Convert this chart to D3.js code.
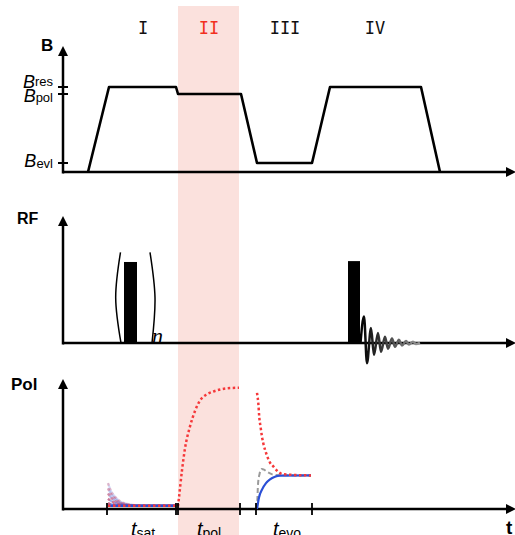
<!DOCTYPE html>
<html>
<head>
<meta charset="utf-8">
<script src="https://cdn.jsdelivr.net/npm/d3@7"></script>
<style>
  body { margin: 0; background: #fff; }
  svg { display: block; }
</style>
</head>
<body>
<svg id="chart"></svg>
<script>
// phases along the time axis
const phaseLabels = ["I", "II", "III", "IV"];
const phaseCenters = [8.0, 14.6, 22.2, 31.2];
const polBand = [11.5, 17.6];

// B field levels and waveform
const bLevelNames = ["res", "pol", "evl"];
const bLevels = [0.68, 0.624, 0.072];
const bTime = [2.5, 4.6, 11.3, 11.5, 17.8, 19.4, 24.9, 26.7, 35.8, 37.7];
const bValue = [0, 0.68, 0.68, 0.624, 0.624, 0.072, 0.072, 0.68, 0.68, 0];

// RF pulses + FID
const pulseStart = [6.1, 28.5];
const pulseEnd = [7.4, 29.7];
const pulseHeight = [0.643, 0.65];
const fidTime = [29.75, 30.1, 30.4, 30.8, 31.1, 31.5, 31.8, 32.2, 32.5, 32.9, 33.2, 33.6, 33.9, 34.3, 34.6, 35.0, 35.3, 35.7];
const fidValue = [0, 0.21, -0.16, 0.12, -0.095, 0.08, -0.07, 0.05, -0.045, 0.035, -0.03, 0.025, -0.02, 0.015, -0.012, 0.01, -0.008, 0];

// polarization: saturation (I)
const satTime = [4.5, 4.8, 5.2, 5.7, 6.3, 7.0, 8.0, 11.3];
const satCurves = [
  [0.20, 0.14, 0.095, 0.06, 0.042, 0.031, 0.026, 0.025],
  [0.16, 0.115, 0.08, 0.052, 0.037, 0.029, 0.025, 0.025],
  [0.12, 0.088, 0.062, 0.044, 0.033, 0.027, 0.025, 0.025],
  [0.08, 0.062, 0.047, 0.036, 0.030, 0.026, 0.025, 0.025],
  [0.045, 0.038, 0.033, 0.029, 0.027, 0.025, 0.025, 0.025]
];
const satBase = [0.025, 0.025, 0.025, 0.025, 0.025, 0.025, 0.025, 0.025];

// polarization build-up (II)
const polTime = [11.5, 11.6, 11.9, 12.2, 12.7, 13.2, 13.7, 14.4, 15.0, 16.4, 17.6];
const polValue = [0.02, 0.09, 0.30, 0.47, 0.64, 0.76, 0.84, 0.89, 0.91, 0.935, 0.94];

// evolution (III)
const evoRedTime = [19.4, 19.53, 19.63, 19.77, 19.9, 20.03, 20.37, 20.7, 21.03, 21.5, 22.0, 24.8];
const evoRed = [0.90, 0.82, 0.71, 0.63, 0.56, 0.51, 0.42, 0.36, 0.33, 0.29, 0.27, 0.26];
const evoGrayTime = [19.4, 19.45, 19.5, 19.65, 19.87, 20.1, 20.37, 20.87, 21.5, 24.8];
const evoGray = [0, 0.1, 0.19, 0.27, 0.31, 0.305, 0.29, 0.27, 0.262, 0.26];
const evoBlueTime = [19.4, 19.6, 19.9, 20.3, 20.7, 21.2, 21.7, 24.8];
const evoBlue = [0, 0.09, 0.15, 0.2, 0.23, 0.25, 0.258, 0.26];

// time axis ticks + labels
const polTicks = [4.4, 11.3, 11.5, 17.7, 19.3, 24.9];
const timeLabelSubs = ["sat", "pol", "evo"];
const timeLabelCenters = [8.0, 14.6, 22.4];

const w = 515, h = 535;
const svg = d3.select("#chart")
  .attr("width", w)
  .attr("height", h)
  .style("font-family", "'Liberation Sans', Arial, sans-serif");

const x = d3.scaleLinear().domain([0, 45]).range([63, 513]);
const yB = d3.scaleLinear().domain([0, 1]).range([172, 47]);
const yRF = d3.scaleLinear().domain([0, 1]).range([343, 217]);
const yPol = d3.scaleLinear().domain([0, 1]).range([509, 380]);
const xEnd = 45.3;

const RED = "#f5383a", BLUE = "#2a4fd6";

const zip = (ts, vs) => ts.map((t, i) => [t, vs[i]]);

// shaded polarization phase
svg.append("rect")
  .attr("x", x(polBand[0]))
  .attr("y", 6)
  .attr("width", x(polBand[1]) - x(polBand[0]))
  .attr("height", h - 6)
  .attr("fill", "#fbe1dd");

// phase numerals
svg.selectAll(".phase")
  .data(phaseLabels)
  .join("text")
  .attr("x", (d, i) => x(phaseCenters[i]))
  .attr("y", 34)
  .attr("text-anchor", "middle")
  .style("font-family", "'DejaVu Sans Mono', monospace")
  .style("font-size", "17px")
  .attr("fill", d => d === "II" ? "#f2301e" : "#111")
  .text(d => d);

// axes with arrows
function drawAxes(y, label, labelX, labelY, labelSize) {
  const x0 = x(0), y0 = y(0), yTop = y(1), xR = x(xEnd);
  svg.append("line")
    .attr("x1", x0).attr("y1", y0 + 1.5).attr("x2", x0).attr("y2", yTop + 6)
    .attr("stroke", "#000").attr("stroke-width", 2.5);
  svg.append("path")
    .attr("d", `M${x0},${yTop - 1} L${x0 - 5},${yTop + 9} L${x0 + 5},${yTop + 9} Z`)
    .attr("fill", "#000");
  svg.append("line")
    .attr("x1", x0).attr("y1", y0).attr("x2", xR - 6).attr("y2", y0)
    .attr("stroke", "#000").attr("stroke-width", 2.5);
  svg.append("path")
    .attr("d", `M${xR},${y0} L${xR - 10},${y0 - 5} L${xR - 10},${y0 + 5} Z`)
    .attr("fill", "#000");
  svg.append("text")
    .attr("x", labelX).attr("y", labelY)
    .style("font-weight", "bold")
    .style("font-size", labelSize + "px")
    .text(label);
}

drawAxes(yB, "B", 41, 51, 17);
drawAxes(yRF, "RF", 17, 224, 16);
drawAxes(yPol, "Pol", 11, 390, 17);

// B level ticks + labels
const subShift = [-2, 0, 1];
bLevels.forEach((v, i) => {
  svg.append("line")
    .attr("x1", x(0) - 5).attr("x2", x(0) + 5)
    .attr("y1", yB(v)).attr("y2", yB(v))
    .attr("stroke", "#000").attr("stroke-width", 2);
});
const bBase = [88, 102, 167];
bLevelNames.forEach((n, i) => {
  const t = svg.append("text")
    .attr("x", 53).attr("y", bBase[i])
    .attr("text-anchor", "end");
  t.append("tspan").style("font-style", "italic").style("font-size", "18px").text("B");
  t.append("tspan").style("font-size", "13px").attr("dy", subShift[i]).text(n);
});

// B waveform
svg.append("path")
  .datum(zip(bTime, bValue))
  .attr("fill", "none")
  .attr("stroke", "#000")
  .attr("stroke-width", 2.6)
  .attr("stroke-linejoin", "round")
  .attr("d", d3.line().x(d => x(d[0])).y(d => yB(d[1])));

// RF pulses
svg.selectAll(".pulse")
  .data(pulseStart)
  .join("rect")
  .attr("x", d => x(d))
  .attr("width", (d, i) => x(pulseEnd[i]) - x(d))
  .attr("y", (d, i) => yRF(pulseHeight[i]))
  .attr("height", (d, i) => yRF(0) - yRF(pulseHeight[i]))
  .attr("fill", "#000");

// brackets around the saturation pulse
const parenTime = [[5.75, 5.27, 5.8], [8.7, 9.2, 8.9]];
const parenValue = [0.72, 0.36, 0];
parenTime.forEach(pt => {
  svg.append("path")
    .datum(zip(pt, parenValue))
    .attr("fill", "none")
    .attr("stroke", "#000")
    .attr("stroke-width", 1.5)
    .attr("d", d3.line().x(d => x(d[0])).y(d => yRF(d[1])).curve(d3.curveNatural));
});
svg.append("text")
  .attr("x", x(8.9)).attr("y", yRF(0) - 0.5)
  .style("font-family", "'Liberation Serif', 'Times New Roman', serif")
  .style("font-style", "italic")
  .style("font-size", "22px")
  .text("n");

// FID
const grad = svg.append("defs").append("linearGradient")
  .attr("id", "fidGrad")
  .attr("gradientUnits", "userSpaceOnUse")
  .attr("x1", x(fidTime[0])).attr("x2", x(fidTime[fidTime.length - 1]))
  .attr("y1", 0).attr("y2", 0);
grad.append("stop").attr("offset", "0%").attr("stop-color", "#000");
grad.append("stop").attr("offset", "100%").attr("stop-color", "#999");
svg.append("path")
  .datum(zip(fidTime, fidValue))
  .attr("fill", "none")
  .attr("stroke", "url(#fidGrad)")
  .attr("stroke-width", 2.5)
  .attr("d", d3.line().x(d => x(d[0])).y(d => yRF(d[1])).curve(d3.curveMonotoneX));

// polarization curves
const polLine = d3.line().x(d => x(d[0])).y(d => yPol(d[1])).curve(d3.curveMonotoneX);
const satOpacity = [0.22, 0.3, 0.38, 0.48, 0.6];

satCurves.forEach((c, i) => {
  svg.append("path").datum(zip(satTime, c))
    .attr("fill", "none").attr("stroke", BLUE).attr("stroke-width", 2)
    .attr("opacity", satOpacity[i]).attr("d", polLine);
  svg.append("path").datum(zip(satTime, c))
    .attr("fill", "none").attr("stroke", RED).attr("stroke-width", 2.5)
    .attr("stroke-dasharray", "2.5,2.5")
    .attr("opacity", satOpacity[i]).attr("d", polLine);
});
svg.append("path").datum(zip(satTime, satBase))
  .attr("fill", "none").attr("stroke", BLUE).attr("stroke-width", 2.5)
  .attr("d", polLine);
svg.append("path").datum(zip(satTime, satBase))
  .attr("fill", "none").attr("stroke", RED).attr("stroke-width", 2.5)
  .attr("stroke-dasharray", "2.5,2.5").attr("d", polLine);

svg.append("path").datum(zip(polTime, polValue))
  .attr("fill", "none").attr("stroke", RED).attr("stroke-width", 2.5)
  .attr("stroke-dasharray", "2.5,2.5").attr("d", polLine);

svg.append("path").datum(zip(evoGrayTime, evoGray))
  .attr("fill", "none").attr("stroke", "#9a9a9a").attr("stroke-width", 2)
  .attr("stroke-dasharray", "5,3").attr("d", polLine);
svg.append("path").datum(zip(evoBlueTime, evoBlue))
  .attr("fill", "none").attr("stroke", BLUE).attr("stroke-width", 2.2)
  .attr("d", polLine);
svg.append("path").datum(zip(evoRedTime, evoRed))
  .attr("fill", "none").attr("stroke", RED).attr("stroke-width", 2.5)
  .attr("stroke-dasharray", "2.5,2.5").attr("d", polLine);

// time ticks on Pol axis
svg.selectAll(".ptick")
  .data(polTicks)
  .join("line")
  .attr("x1", d => x(d)).attr("x2", d => x(d))
  .attr("y1", yPol(0) - 6).attr("y2", yPol(0) + 6)
  .attr("stroke", "#000").attr("stroke-width", 1.8);

// period labels (cut at the bottom edge, as in the original)
timeLabelSubs.forEach((s, i) => {
  const t = svg.append("text")
    .attr("x", x(timeLabelCenters[i])).attr("y", 536)
    .attr("text-anchor", "middle");
  t.append("tspan").style("font-style", "italic").style("font-size", "20px").text("t");
  t.append("tspan").style("font-size", "14px").attr("dy", 2).text(s);
});

svg.append("text")
  .attr("x", 506).attr("y", 534)
  .style("font-weight", "bold")
  .style("font-size", "19px")
  .text("t");
</script>
</body>
</html>
